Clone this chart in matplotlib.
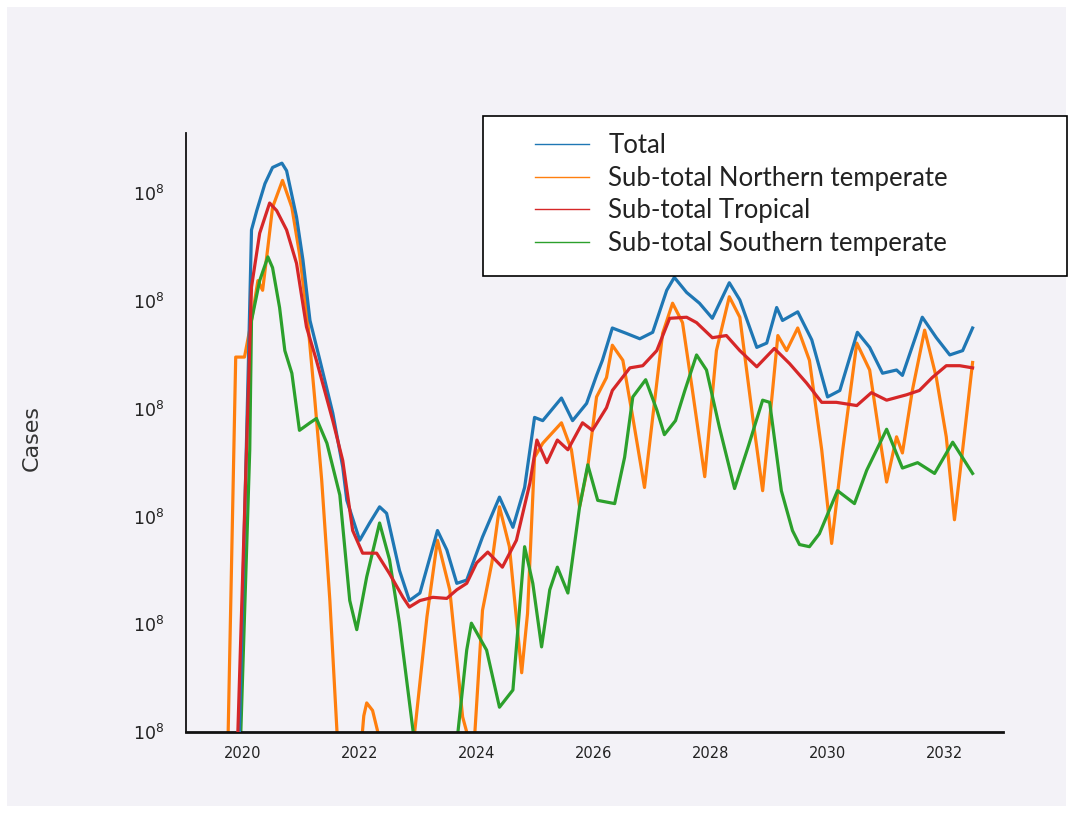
import matplotlib
matplotlib.use('Agg')
import matplotlib.pyplot as plt
from matplotlib.lines import Line2D
from matplotlib.patches import Rectangle

# data (x = year, y = position in log decades, 0 = bottom axis)
total_x = [2019.93, 2020.10, 2020.15, 2020.24, 2020.38, 2020.51, 2020.67, 2020.75, 2020.92, 2021.03,
           2021.15, 2021.32, 2021.54, 2021.71, 2021.78, 2022.00, 2022.17, 2022.34, 2022.46, 2022.68,
           2022.85, 2023.03, 2023.33, 2023.49, 2023.66, 2023.83, 2024.10, 2024.39, 2024.62, 2024.82,
           2024.99, 2025.13, 2025.45, 2025.64, 2025.88, 2026.05, 2026.15, 2026.32, 2026.56, 2026.79,
           2027.01, 2027.25, 2027.38, 2027.59, 2027.81, 2028.03, 2028.32, 2028.50, 2028.79, 2028.96,
           2029.13, 2029.23, 2029.49, 2029.73, 2030.00, 2030.21, 2030.51, 2030.72, 2030.94, 2031.18,
           2031.28, 2031.62, 2031.86, 2032.09, 2032.31, 2032.48]
total_y = [-0.3, 3.5, 4.66, 4.84, 5.09, 5.24, 5.28, 5.21, 4.78, 4.38,
           3.82, 3.45, 2.96, 2.46, 2.15, 1.78, 1.94, 2.09, 2.03, 1.50,
           1.22, 1.29, 1.87, 1.69, 1.38, 1.41, 1.81, 2.18, 1.90, 2.27,
           2.92, 2.89, 3.10, 2.89, 3.05, 3.31, 3.45, 3.75, 3.70, 3.65,
           3.71, 4.10, 4.22, 4.08, 3.98, 3.84, 4.17, 4.01, 3.57, 3.61,
           3.94, 3.82, 3.90, 3.64, 3.11, 3.17, 3.71, 3.57, 3.33, 3.36,
           3.31, 3.85, 3.66, 3.50, 3.54, 3.75]

north_x = [2019.74, 2019.88, 2020.03, 2020.15, 2020.26, 2020.34, 2020.43, 2020.51, 2020.68, 2020.84,
           2020.97, 2021.11, 2021.23, 2021.35, 2021.49, 2021.61, 2021.75, 2022.00, 2022.07, 2022.12,
           2022.22, 2022.31, 2022.45, 2022.80, 2022.94, 2023.15, 2023.33, 2023.54, 2023.76, 2023.83,
           2023.90, 2023.97, 2024.10, 2024.26, 2024.39, 2024.56, 2024.77, 2024.87, 2024.99, 2025.13,
           2025.45, 2025.62, 2025.76, 2025.90, 2026.05, 2026.22, 2026.32, 2026.50, 2026.67, 2026.87,
           2027.01, 2027.18, 2027.35, 2027.52, 2027.69, 2027.90, 2028.10, 2028.32, 2028.50, 2028.72,
           2028.89, 2029.06, 2029.15, 2029.30, 2029.49, 2029.69, 2029.90, 2030.07, 2030.26, 2030.50,
           2030.72, 2030.89, 2031.01, 2031.18, 2031.28, 2031.45, 2031.66, 2031.86, 2032.03, 2032.17,
           2032.31, 2032.48]
north_y = [-0.3, 3.48, 3.48, 3.82, 4.19, 4.10, 4.50, 4.87, 5.12, 4.87,
           4.44, 3.82, 3.10, 2.34, 1.22, 0.02, -0.8, -0.3, 0.15, 0.27,
           0.20, 0.0, -0.8, -0.4, 0.0, 1.07, 1.78, 1.32, 0.14, 0.0,
           -0.3, 0.0, 1.13, 1.57, 2.09, 1.72, 0.55, 1.10, 2.55, 2.68,
           2.87, 2.62, 2.09, 2.46, 3.11, 3.29, 3.59, 3.45, 2.92, 2.27,
           2.92, 3.70, 3.98, 3.80, 3.17, 2.37, 3.54, 4.04, 3.85, 2.92,
           2.24, 3.17, 3.68, 3.54, 3.75, 3.45, 2.62, 1.75, 2.62, 3.61,
           3.36, 2.74, 2.32, 2.74, 2.59, 3.17, 3.73, 3.29, 2.74, 1.97,
           2.62, 3.43]

tropical_x = [2019.90, 2020.15, 2020.29, 2020.46, 2020.58, 2020.75, 2020.92, 2021.09, 2021.26, 2021.54,
              2021.71, 2021.88, 2022.05, 2022.29, 2022.51, 2022.74, 2022.85, 2023.03, 2023.25, 2023.49,
              2023.66, 2023.83, 2024.00, 2024.19, 2024.44, 2024.68, 2024.91, 2025.03, 2025.20, 2025.38,
              2025.56, 2025.81, 2025.98, 2026.22, 2026.32, 2026.62, 2026.84, 2027.08, 2027.30, 2027.59,
              2027.76, 2028.03, 2028.27, 2028.50, 2028.79, 2029.09, 2029.35, 2029.64, 2029.90, 2030.15,
              2030.50, 2030.75, 2031.01, 2031.35, 2031.57, 2031.79, 2032.03, 2032.26, 2032.48]
tropical_y = [-0.3, 4.13, 4.63, 4.91, 4.84, 4.66, 4.35, 3.76, 3.45, 2.89,
              2.52, 1.87, 1.66, 1.66, 1.47, 1.25, 1.16, 1.22, 1.25, 1.24,
              1.32, 1.38, 1.57, 1.67, 1.53, 1.78, 2.31, 2.71, 2.50, 2.71,
              2.62, 2.87, 2.80, 3.01, 3.17, 3.38, 3.40, 3.54, 3.84, 3.85,
              3.80, 3.66, 3.68, 3.54, 3.39, 3.56, 3.42, 3.24, 3.06, 3.06,
              3.03, 3.15, 3.08, 3.13, 3.17, 3.29, 3.40, 3.40, 3.38]

south_x = [2019.95, 2020.12, 2020.15, 2020.29, 2020.43, 2020.51, 2020.63, 2020.72, 2020.84, 2020.97,
           2021.15, 2021.26, 2021.44, 2021.66, 2021.83, 2021.95, 2022.12, 2022.34, 2022.51, 2022.68,
           2022.91, 2023.05, 2023.55, 2023.68, 2023.83, 2023.91, 2024.17, 2024.39, 2024.62, 2024.82,
           2024.96, 2025.11, 2025.25, 2025.38, 2025.56, 2025.76, 2025.90, 2026.07, 2026.36, 2026.53,
           2026.67, 2026.89, 2027.08, 2027.21, 2027.40, 2027.56, 2027.76, 2027.93, 2028.15, 2028.41,
           2028.65, 2028.89, 2029.01, 2029.21, 2029.40, 2029.52, 2029.69, 2029.86, 2030.17, 2030.46,
           2030.67, 2031.01, 2031.28, 2031.54, 2031.83, 2032.14, 2032.48]
south_y = [-0.3, 2.62, 3.82, 4.19, 4.41, 4.31, 3.94, 3.54, 3.33, 2.80,
           2.87, 2.91, 2.68, 2.2, 1.22, 0.95, 1.44, 1.94, 1.60, 1.01,
           0.02, -0.6, -0.6, 0.0, 0.76, 1.01, 0.76, 0.23, 0.39, 1.72,
           1.38, 0.79, 1.32, 1.53, 1.29, 2.09, 2.48, 2.15, 2.12, 2.55,
           3.11, 3.27, 2.99, 2.76, 2.89, 3.17, 3.50, 3.36, 2.83, 2.26,
           2.66, 3.08, 3.06, 2.24, 1.87, 1.74, 1.72, 1.84, 2.24, 2.12,
           2.43, 2.81, 2.45, 2.50, 2.40, 2.69, 2.40]

labels = ['Total', 'Sub-total Northern temperate', 'Sub-total Tropical', 'Sub-total Southern temperate']
colors = ['#1f77b4', '#ff7f0e', '#d62728', '#2ca02c']
year_ticks = [2020, 2022, 2024, 2026, 2028, 2030, 2032]
y_ticks = [0, 1, 2, 3, 4, 5]

bg = '#f3f2f7'
fig = plt.figure(figsize=(10.73, 8.13), dpi=100, facecolor='white')
fig.patches.append(Rectangle((7 / 1073, 7 / 813), 1 - 14 / 1073, 1 - 14 / 813,
                             transform=fig.transFigure, facecolor=bg, edgecolor='none', zorder=-1))

ax = fig.add_axes([186 / 1073, 81 / 813, 817 / 1073, 599 / 813])
ax.set_facecolor('none')

series = [(total_x, total_y), (north_x, north_y), (tropical_x, tropical_y), (south_x, south_y)]
order = [1, 3, 0, 2]  # drawing order so red/blue sit on top
for i in order:
    xs, ys = series[i]
    ax.plot(xs, ys, color=colors[i], lw=2.3, solid_joinstyle='round', zorder=2 + (i in (0, 2)))

ax.set_xlim(2019.03, 2033.0)
ax.set_ylim(0, 5.56)
ax.set_xticks(year_ticks)
ax.set_xticklabels([str(y) for y in year_ticks], fontsize=10.5, color='#222222')
ax.set_yticks(y_ticks)
ax.set_yticklabels(['$10^8$'] * len(y_ticks), fontsize=12.5, color='#222222')
ax.tick_params(axis='both', length=0)
ax.tick_params(axis='x', pad=10)
ax.tick_params(axis='y', pad=16)

for s in ['top', 'right']:
    ax.spines[s].set_visible(False)
ax.spines['left'].set_color('#111111')
ax.spines['bottom'].set_color('#111111')
ax.spines['left'].set_linewidth(1.3)
ax.spines['bottom'].set_linewidth(2.0)

ax.set_ylabel('Cases', fontsize=16, color='#333333')
ax.yaxis.set_label_coords(-0.176, 0.49)

# legend box
fig.patches.append(Rectangle((483 / 1073, 1 - 276 / 813), 584 / 1073, 160 / 813,
                             transform=fig.transFigure, facecolor='white',
                             edgecolor='black', lw=1.2, zorder=5))
handles = [Line2D([0], [0], color=c, lw=1.0) for c in colors]
leg = fig.legend(handles, labels, loc='upper left', bbox_to_anchor=(535 / 1073, 1 - 133 / 813),
                 frameon=False, prop={'family': 'Lato', 'size': 18.5}, handlelength=2.1,
                 handletextpad=0.75, labelspacing=0.3, borderpad=0, borderaxespad=0)
leg.set_zorder(6)
for t in leg.get_texts():
    t.set_color('#222222')

fig.savefig('out.png', dpi=100, facecolor=fig.get_facecolor())
